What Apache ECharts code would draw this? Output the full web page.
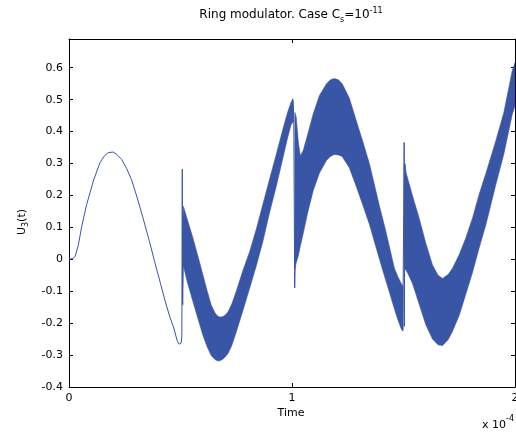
<!DOCTYPE html>
<html>
<head>
<meta charset="utf-8">
<script src="https://cdn.jsdelivr.net/npm/echarts@6/dist/echarts.min.js"></script>
<style>
  html, body { margin: 0; padding: 0; background: #fff; }
  #chart { width: 516px; height: 432px; }
</style>
</head>
<body>
<div id="chart"></div>
<script>
// time axis in units of 1e-4
const xTicks = [0, 1, 2];

// thin part of the trace and the switching spikes (null = break)
const lineT = [0, 0.004, 0.015, 0.027, 0.042, 0.057, 0.079, 0.109, 0.139, 0.16, 0.176, 0.198, 0.215, 0.236, 0.258, 0.28, 0.305, 0.332, 0.36, 0.385, 0.41, 0.43, 0.452, 0.47, 0.485, 0.494, 0.499, 0.503, 0.506, 0.508, 0.509, 0.510,
  1.003, 1.004, 1.008, 1.012, 1.014,
  1.497, 1.497, 1.501, 1.503, 1.504, 1.506];
const lineV = [0, 0.001, 0.002, 0.008, 0.045, 0.103, 0.171, 0.245, 0.303, 0.325, 0.334, 0.336, 0.328, 0.313, 0.285, 0.25, 0.195, 0.129, 0.058, -0.01, -0.075, -0.128, -0.18, -0.215, -0.255, -0.266, -0.268, -0.262, -0.24, 0.282, -0.13, -0.14,
  null, 0.50, 0.44, -0.09, -0.02,
  null, -0.22, -0.225, 0.366, -0.21, 0.30];

// envelopes of the fast oscillation (upper / lower)
const bandA_t  = [0.510, 0.513, 0.53, 0.556, 0.58, 0.601, 0.62, 0.638, 0.655, 0.665, 0.676, 0.688, 0.700, 0.713, 0.73, 0.75, 0.78, 0.81, 0.84, 0.869, 0.899, 0.93, 0.96, 0.98, 0.995, 1.004, 1.007];
const bandA_hi = [0.104, 0.166, 0.126, 0.066, 0.005, -0.05, -0.10, -0.144, -0.168, -0.177, -0.181, -0.18, -0.175, -0.165, -0.14, -0.10, -0.035, 0.024, 0.095, 0.171, 0.25, 0.33, 0.41, 0.46, 0.49, 0.503, 0.47];
const bandA_lo = [-0.144, -0.02, -0.07, -0.133, -0.19, -0.239, -0.275, -0.302, -0.314, -0.318, -0.318, -0.314, -0.306, -0.295, -0.27, -0.228, -0.16, -0.091, -0.02, 0.055, 0.145, 0.23, 0.32, 0.38, 0.42, 0.43, 0.43];

const bandB_t  = [1.013, 1.019, 1.028, 1.037, 1.05, 1.07, 1.095, 1.123, 1.155, 1.172, 1.19, 1.208, 1.225, 1.257, 1.29, 1.317, 1.347, 1.391, 1.42, 1.44, 1.459, 1.475, 1.49, 1.498];
const bandB_hi = [0.46, 0.445, 0.37, 0.324, 0.34, 0.39, 0.455, 0.513, 0.55, 0.562, 0.566, 0.562, 0.55, 0.505, 0.43, 0.37, 0.30, 0.17, 0.09, 0.03, -0.028, -0.055, -0.076, -0.085];
const bandB_lo = [-0.03, -0.01, 0.01, 0.04, 0.08, 0.145, 0.215, 0.27, 0.31, 0.322, 0.328, 0.327, 0.322, 0.287, 0.225, 0.171, 0.11, 0.003, -0.065, -0.11, -0.155, -0.19, -0.218, -0.225];

const bandC_t  = [1.506, 1.512, 1.52, 1.54, 1.57, 1.60, 1.63, 1.655, 1.675, 1.70, 1.72, 1.75, 1.779, 1.81, 1.839, 1.87, 1.914, 1.95, 1.988, 2.0];
const bandC_hi = [0.30, 0.27, 0.25, 0.20, 0.129, 0.05, -0.018, -0.05, -0.06, -0.048, -0.028, 0.015, 0.066, 0.13, 0.203, 0.27, 0.371, 0.46, 0.592, 0.615];
const bandC_lo = [-0.03, -0.035, -0.045, -0.075, -0.14, -0.205, -0.25, -0.268, -0.27, -0.252, -0.225, -0.175, -0.11, -0.04, 0.035, 0.11, 0.234, 0.33, 0.455, 0.48];

const bands = [
  { t: bandA_t, hi: bandA_hi, lo: bandA_lo },
  { t: bandB_t, hi: bandB_hi, lo: bandB_lo },
  { t: bandC_t, hi: bandC_hi, lo: bandC_lo }
];

const blue = '#3955a5';
const font = 'DejaVu Sans';

// small text layout helper (for sub/superscripts)
const mctx = document.createElement('canvas').getContext('2d');
function textW(txt, size) {
  mctx.font = size + 'px "' + font + '"';
  return mctx.measureText(txt).width;
}
function pieces(list, cx, cy) {
  let total = 0;
  list.forEach(p => { total += textW(p.t, p.s); });
  let x = cx - total / 2;
  const out = [];
  list.forEach(p => {
    out.push({
      type: 'text', x: x, y: cy + (p.dy || 0),
      style: { text: p.t, fontSize: p.s, fontFamily: font, fill: '#000', align: 'left', verticalAlign: 'middle' }
    });
    x += textW(p.t, p.s);
  });
  return out;
}

const chart = echarts.init(document.getElementById('chart'));

const axisCommon = {
  type: 'value',
  axisLine: { show: true, onZero: false, lineStyle: { color: '#000', width: 1 } },
  axisTick: { show: true, inside: true, length: 4, lineStyle: { color: '#000' } },
  splitLine: { show: false }
};

const option = {
  animation: false,
  backgroundColor: '#fff',
  grid: { left: 69, right: 1, top: 39, bottom: 45, containLabel: false, outerBoundsMode: 'none' },
  xAxis: [
    Object.assign({}, axisCommon, {
      position: 'bottom', min: 0, max: 2, interval: 1,
      axisLabel: { color: '#000', fontFamily: font, fontSize: 11, margin: 6, hideOverlap: false,
        formatter: v => xTicks.indexOf(v) >= 0 ? String(v) : '' }
    }),
    Object.assign({}, axisCommon, {
      position: 'top', min: 0, max: 2, interval: 1,
      axisLabel: { show: false }
    })
  ],
  yAxis: [
    Object.assign({}, axisCommon, {
      position: 'left', min: -0.4, max: 0.69, interval: 0.1,
      axisLabel: { color: '#000', fontFamily: font, fontSize: 11, margin: 6,
        formatter: v => v > 0.65 ? '' : String(+v.toFixed(1)) }
    }),
    Object.assign({}, axisCommon, {
      position: 'right', min: -0.4, max: 0.69, interval: 0.1,
      axisLabel: { show: false }
    })
  ],
  series: [
    {
      type: 'custom',
      xAxisIndex: 0, yAxisIndex: 0,
      clip: true,
      data: bands.map(b => [b.t[0], b.hi[0]]),
      renderItem: function (params, api) {
        const b = bands[params.dataIndex];
        const pts = [];
        for (let k = 0; k < b.t.length; k++) pts.push(api.coord([b.t[k], b.hi[k]]));
        for (let k = b.t.length - 1; k >= 0; k--) pts.push(api.coord([b.t[k], b.lo[k]]));
        return {
          type: 'polygon',
          shape: { points: pts },
          style: { fill: blue, stroke: blue, lineWidth: 0.6 }
        };
      }
    },
    {
      type: 'line',
      xAxisIndex: 0, yAxisIndex: 0,
      data: lineT.map((t, i) => [t, lineV[i]]),
      showSymbol: false,
      connectNulls: false,
      lineStyle: { color: blue, width: 1 },
      itemStyle: { color: blue }
    }
  ],
  graphic: [].concat(
    pieces([
      { t: 'Ring modulator. Case C', s: 12 },
      { t: 's', s: 8, dy: 5 },
      { t: '=10', s: 12 },
      { t: '-11', s: 8, dy: -4 }
    ], 291, 15),
    pieces([{ t: 'Time', s: 11 }], 291, 413),
    [
      { type: 'text', x: 482, y: 425, style: { text: 'x 10', fontSize: 11, fontFamily: font, fill: '#000', align: 'left', verticalAlign: 'middle' } },
      { type: 'text', x: 482 + textW('x 10', 11), y: 419, style: { text: '-4', fontSize: 8, fontFamily: font, fill: '#000', align: 'left', verticalAlign: 'middle' } },
      {
        type: 'group', x: 22, y: 222, rotation: Math.PI / 2,
        children: pieces([
          { t: 'U', s: 11 },
          { t: '3', s: 8, dy: 4 },
          { t: '(t)', s: 11 }
        ], 0, 0)
      }
    ]
  )
};

chart.setOption(option);
</script>
</body>
</html>
